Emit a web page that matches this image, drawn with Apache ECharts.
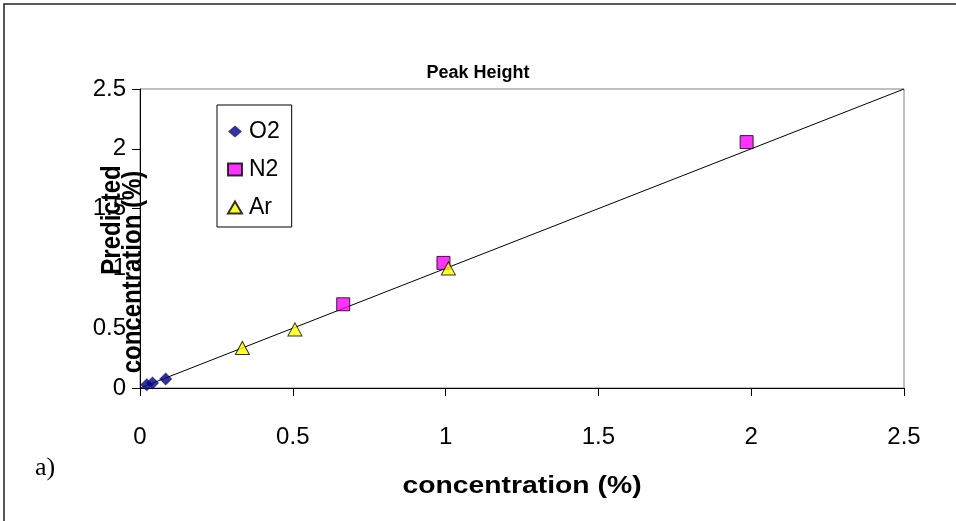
<!DOCTYPE html>
<html>
<head>
<meta charset="utf-8">
<script src="https://cdn.jsdelivr.net/npm/echarts@6/dist/echarts.min.js"></script>
<style>
  html, body { margin: 0; padding: 0; background: #fff; }
  #main { width: 956px; height: 521px; }
</style>
</head>
<body>
<div id="main"></div>
<script>
var myChart = echarts.init(document.getElementById('main'));

// readings from the picture
var o2X = [0.022, 0.041, 0.084];
var o2Y = [0.027, 0.041, 0.075];
var n2X = [0.665, 0.993, 1.985];
var n2Y = [0.70, 1.046, 2.056];
var arX = [0.335, 0.507, 1.009];
var arY = [0.335, 0.49, 1.0];
var lineX = [0, 2.5];
var lineY = [0, 2.5];
var axisTicks = [0, 0.5, 1, 1.5, 2, 2.5];

function pairs(xs, ys) {
    var out = [];
    for (var i = 0; i < xs.length; i++) {
        out.push([xs[i], ys[i]]);
    }
    return out;
}

var font = 'Liberation Sans, Arial, sans-serif';

option = {
    backgroundColor: '#fff',
    animation: false,
    title: {
        text: 'Peak Height',
        left: 473,
        top: 59,
        textAlign: 'center',
        textStyle: { fontFamily: font, fontSize: 18, fontWeight: 'bold', color: '#000' }
    },
    grid: {
        left: 140, right: 52, top: 89, bottom: 133,
        show: true,
        borderColor: '#808080',
        borderWidth: 1
    },
    legend: {
        orient: 'vertical',
        left: 217,
        top: 105,
        padding: [15, 12, 8, 10],
        itemGap: 15,
        itemWidth: 14,
        itemHeight: 12,
        borderColor: '#000',
        borderWidth: 1,
        backgroundColor: '#fff',
        textStyle: { fontFamily: font, fontSize: 23, color: '#000', padding: [0, 0, 0, 2] },
        data: ['O2', 'N2', 'Ar']
    },
    xAxis: {
        type: 'value',
        min: 0, max: 2.5, interval: 0.5,
        axisLine: { show: true, lineStyle: { color: '#000', width: 1 } },
        axisTick: { show: true, length: 8, lineStyle: { color: '#000' } },
        splitLine: { show: false },
        axisLabel: {
            fontFamily: font, fontSize: 24, color: '#000', margin: 37,
            formatter: function (v) { return axisTicks.indexOf(v) >= 0 ? String(v) : ''; }
        }
    },
    yAxis: {
        type: 'value',
        min: 0, max: 2.5, interval: 0.5,
        axisLine: { show: true, lineStyle: { color: '#000', width: 1 } },
        axisTick: { show: true, length: 8, lineStyle: { color: '#000' } },
        splitLine: { show: false },
        axisLabel: {
            fontFamily: font, fontSize: 24, color: '#000', margin: 14,
            formatter: function (v) { return axisTicks.indexOf(v) >= 0 ? String(v) : ''; }
        }
    },
    graphic: [
        {
            type: 'rect',
            shape: { x: 4, y: 4, width: 1100, height: 700 },
            style: { fill: 'none', stroke: '#222', lineWidth: 1.5 },
            silent: true
        },
        {
            type: 'text',
            x: 112, y: 220,
            rotation: Math.PI / 2,
            scaleY: 1.15,
            style: { text: 'Predicted', fontFamily: font, fontSize: 24, fontWeight: 'bold',
                fill: '#000', align: 'center', verticalAlign: 'middle' }
        },
        {
            type: 'text',
            x: 133, y: 272,
            rotation: Math.PI / 2,
            scaleY: 1.15,
            style: { text: 'concentration (%)', fontFamily: font, fontSize: 24, fontWeight: 'bold',
                fill: '#000', align: 'center', verticalAlign: 'middle' }
        },
        {
            type: 'text',
            x: 522, y: 486,
            scaleX: 1.18,
            style: { text: 'concentration (%)', fontFamily: font, fontSize: 24, fontWeight: 'bold',
                fill: '#000', align: 'center', verticalAlign: 'middle' }
        },
        {
            type: 'text',
            x: 45, y: 468,
            style: { text: 'a)', fontFamily: 'Liberation Serif, Times New Roman, serif', fontSize: 26,
                fill: '#000', align: 'center', verticalAlign: 'middle' }
        }
    ],
    series: [
        {
            name: 'fit',
            type: 'line',
            data: pairs(lineX, lineY),
            symbol: 'none',
            lineStyle: { color: '#000', width: 1 },
            z: 1
        },
        {
            name: 'O2',
            type: 'scatter',
            data: pairs(o2X, o2Y),
            symbol: 'diamond',
            symbolSize: 13,
            itemStyle: { color: '#000080' },
            z: 3
        },
        {
            name: 'N2',
            type: 'scatter',
            data: pairs(n2X, n2Y),
            symbol: 'rect',
            symbolSize: 13,
            itemStyle: { color: '#FF00FF', borderColor: '#000', borderWidth: 1 },
            z: 3
        },
        {
            name: 'Ar',
            type: 'scatter',
            data: pairs(arX, arY),
            symbol: 'triangle',
            symbolSize: [14, 13],
            itemStyle: { color: '#FFFF00', borderColor: '#000', borderWidth: 1 },
            z: 4
        }
    ]
};

myChart.setOption(option);
</script>
</body>
</html>
